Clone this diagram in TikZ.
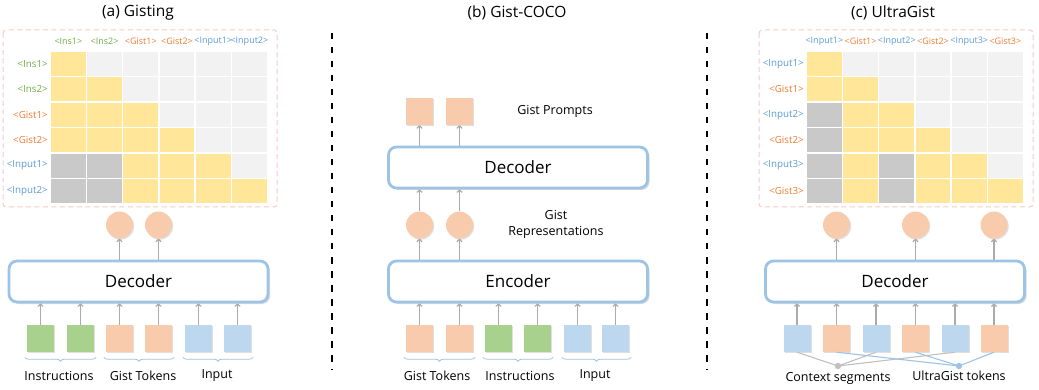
\documentclass[tikz,border=0pt]{standalone}
\usepackage{fontspec}
\setmainfont{Open Sans}
\usetikzlibrary{shadows,decorations.pathreplacing,arrows.meta}
\definecolor{cY}{HTML}{FFE699}
\definecolor{cL}{HTML}{F2F2F2}
\definecolor{cD}{HTML}{C9C9C9}
\definecolor{tG}{HTML}{70AD47}
\definecolor{tO}{HTML}{ED7D31}
\definecolor{tB}{HTML}{5B9BD5}
\definecolor{fG}{HTML}{A9D18E}
\definecolor{fO}{HTML}{F8CBAD}
\definecolor{fB}{HTML}{BDD7EE}
\definecolor{bd}{HTML}{9DC3E6}
\definecolor{pk}{HTML}{F8C8C8}
\definecolor{ar}{HTML}{ABABAB}
\begin{document}
\begin{tikzpicture}[x=1pt,y=-1pt,
  shad/.style={drop shadow={opacity=0.25,shadow xshift=1.2pt,shadow yshift=-1.2pt}},
  tok/.style={minimum size=27pt,inner sep=0pt,shad},
  tokG/.style={tok,fill=fG},
  tokO/.style={tok,fill=fO},
  tokB/.style={tok,fill=fB},
  rep/.style={circle,minimum size=27pt,inner sep=0pt,fill=fO,shad},
  block/.style={draw=bd,line width=2.8pt,rounded corners=8pt,fill=white,minimum width=259pt,minimum height=41pt,font=\fontsize{17}{20}\selectfont,drop shadow={opacity=0.3,shadow xshift=2pt,shadow yshift=-2pt}},
  arr/.style={draw=ar,line width=1.3pt,-{To[length=3.5pt,width=6pt]}},
  brc/.style={draw=bd,line width=0.8pt,decorate,decoration={brace,mirror,amplitude=4pt}},
  lab/.style={font=\fontsize{12.5}{14}\selectfont,inner sep=0pt},
  ttl/.style={font=\fontsize{15.5}{18}\selectfont,inner sep=0pt},
  glab/.style={font=\fontsize{9.8}{11}\selectfont,inner sep=0pt},
  hlab/.style={font=\fontsize{9}{11}\selectfont,inner sep=0pt},
  pbox/.style={draw=pk,line width=1pt,dash pattern=on 5pt off 3.5pt,rounded corners=3pt},
  sep/.style={draw=black,line width=1.8pt,dash pattern=on 6.5pt off 7.5pt}]
\useasboundingbox (0,0) rectangle (1039,390);

% ---------- titles ----------
\node[ttl] (ta) at (138,13) {(a) Gisting};
\node[ttl] (tb) at (517,13) {(b) Gist-COCO};
\node[ttl] (tc) at (893,13) {(c) UltraGist};

% ---------- separators ----------
\draw[sep] (332,33) -- (332,370);
\draw[sep] (707,33) -- (707,370);

% ---------- panel (a) mask ----------
\draw[pbox] (3,30) rectangle (277,207);
\foreach \r [count=\i from 0] in {{Y,L,L,L,L,L},{Y,Y,L,L,L,L},{Y,Y,Y,L,L,L},{Y,Y,Y,Y,L,L},{D,D,Y,Y,Y,L},{D,D,Y,Y,Y,Y}}{
  \foreach \c [count=\j from 0] in \r {
    \fill[c\c] ({51+\j*36.2},{52+\i*25.4}) rectangle ++(34.8,24);
  }
}
\foreach \t/\c [count=\j from 0] in {<Ins1>/tG,<Ins2>/tG,<Gist1>/tO,<Gist2>/tO,<Input1>/tB,<Input2>/tB}{
  \node[hlab,text=\c] (ac\j) at ({68.4+\j*36.2},41) {\t};
  \node[glab,text=\c,anchor=east] (ar\j) at (48,{64+\j*25.4}) {\t};
}

% ---------- panel (a) model ----------
\node[block] (decA) at (138.5,281.5) {Decoder};
\node[rep] (ca1) at (119.5,225) {};
\node[rep] (ca2) at (158.5,225) {};
\draw[arr] (decA.north -| ca1) -- (ca1.south);
\draw[arr] (decA.north -| ca2) -- (ca2.south);
\node[tokG] (a1) at (40.5,338.5) {};
\node[tokG] (a2) at (80.5,338.5) {};
\node[tokO] (a3) at (119.5,338.5) {};
\node[tokO] (a4) at (158.5,338.5) {};
\node[tokB] (a5) at (198.5,338.5) {};
\node[tokB] (a6) at (237.5,338.5) {};
\foreach \n in {a1,a2,a3,a4,a5,a6}{\draw[arr] (\n.north) -- (\n.north |- decA.south);}
\draw[brc] ([xshift=-2pt,yshift=-5pt]a1.south west) -- ([xshift=2pt,yshift=-5pt]a2.south east);
\draw[brc] ([xshift=-2pt,yshift=-5pt]a3.south west) -- ([xshift=2pt,yshift=-5pt]a4.south east);
\draw[brc] ([xshift=-2pt,yshift=-5pt]a5.south west) -- ([xshift=2pt,yshift=-5pt]a6.south east);
\node[lab] (la1) at (59,376) {Instructions};
\node[lab] (la2) at (143,376) {Gist Tokens};
\node[lab] (la3) at (217,376) {Input};

% ---------- panel (b) ----------
\node[block] (decB) at (518,167.5) {Decoder};
\node[block] (encB) at (518,281.5) {Encoder};
\node[tokO] (p1) at (419.5,111.5) {};
\node[tokO] (p2) at (459.5,111.5) {};
\draw[arr] (decB.north -| p1) -- (p1.south);
\draw[arr] (decB.north -| p2) -- (p2.south);
\node[lab] (lgp) at (555,111) {Gist Prompts};
\node[rep] (cb1) at (419.5,225) {};
\node[rep] (cb2) at (459.5,225) {};
\draw[arr] (cb1.north) -- (cb1.north |- decB.south);
\draw[arr] (cb2.north) -- (cb2.north |- decB.south);
\draw[arr] (encB.north -| cb1) -- (cb1.south);
\draw[arr] (encB.north -| cb2) -- (cb2.south);
\node[lab,align=center] (lgr) at (556,224) {Gist\\[2pt]Representations};
\node[tokO] (b1) at (419.5,338.5) {};
\node[tokO] (b2) at (459.5,338.5) {};
\node[tokG] (b3) at (498.5,338.5) {};
\node[tokG] (b4) at (537.5,338.5) {};
\node[tokB] (b5) at (577.5,338.5) {};
\node[tokB] (b6) at (615.5,338.5) {};
\foreach \n in {b1,b2,b3,b4,b5,b6}{\draw[arr] (\n.north) -- (\n.north |- encB.south);}
\draw[brc] ([xshift=-2pt,yshift=-5pt]b1.south west) -- ([xshift=2pt,yshift=-5pt]b2.south east);
\draw[brc] ([xshift=-2pt,yshift=-5pt]b3.south west) -- ([xshift=2pt,yshift=-5pt]b4.south east);
\draw[brc] ([xshift=-2pt,yshift=-5pt]b5.south west) -- ([xshift=2pt,yshift=-5pt]b6.south east);
\node[lab] (lb1) at (437,376) {Gist Tokens};
\node[lab] (lb2) at (520,376) {Instructions};
\node[lab] (lb3) at (595,376) {Input};

% ---------- panel (c) mask ----------
\draw[pbox] (759,30) rectangle (1033,207);
\foreach \r [count=\i from 0] in {{Y,L,L,L,L,L},{Y,Y,L,L,L,L},{D,Y,Y,L,L,L},{D,Y,Y,Y,L,L},{D,Y,D,Y,Y,L},{D,Y,D,Y,Y,Y}}{
  \foreach \c [count=\j from 0] in \r {
    \fill[c\c] ({807+\j*36.2},{52+\i*25.4}) rectangle ++(34.8,24);
  }
}
\foreach \t/\c [count=\j from 0] in {<Input1>/tB,<Gist1>/tO,<Input2>/tB,<Gist2>/tO,<Input3>/tB,<Gist3>/tO}{
  \node[hlab,text=\c] (cc\j) at ({824.4+\j*36.2},41) {\t};
  \node[glab,text=\c,anchor=east] (cr\j) at (804,{64+\j*25.4}) {\t};
}

% ---------- panel (c) model ----------
\node[block] (decC) at (895,281.5) {Decoder};
\node[tokB] (c1) at (797,338.5) {};
\node[tokO] (c2) at (836.5,338.5) {};
\node[tokB] (c3) at (876,338.5) {};
\node[tokO] (c4) at (915.5,338.5) {};
\node[tokB] (c5) at (955,338.5) {};
\node[tokO] (c6) at (994,338.5) {};
\foreach \n in {c1,c2,c3,c4,c5,c6}{\draw[arr] (\n.north) -- (\n.north |- decC.south);}
\node[rep] (cc1) at (836.5,225) {};
\node[rep] (cc2) at (915.5,225) {};
\node[rep] (cc3) at (994,225) {};
\draw[arr] (decC.north -| cc1) -- (cc1.south);
\draw[arr] (decC.north -| cc2) -- (cc2.south);
\draw[arr] (decC.north -| cc3) -- (cc3.south);
\coordinate (gd) at (838,366);
\coordinate (bdot) at (959,366);
\foreach \n in {c1,c3,c5}{\draw[ar!75,line width=1.1pt] (\n.south) -- (gd);}
\foreach \n in {c2,c4,c6}{\draw[bd,line width=1.1pt] (\n.south) -- (bdot);}
\fill[ar!75] (gd) circle (3.2pt);
\fill[bd] (bdot) circle (3.2pt);
\node[lab] (lc1) at (838,378) {Context segments};
\node[lab] (lc2) at (959,376) {UltraGist tokens};
\end{tikzpicture}
\end{document}
